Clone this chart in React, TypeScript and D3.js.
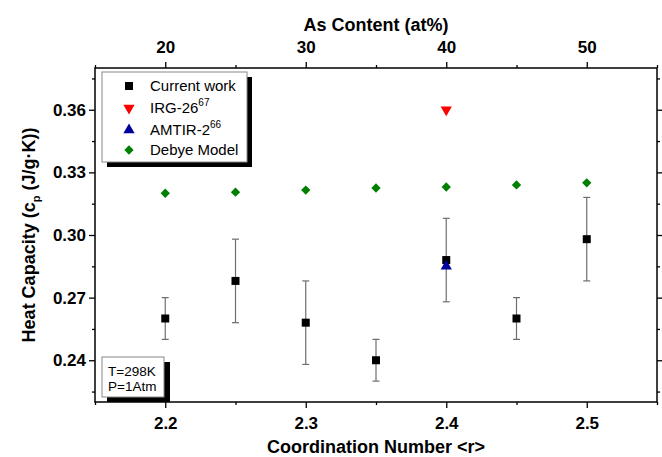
import React, { useEffect, useRef } from "react";
import * as d3 from "d3";

// coordination number <r> for each sample
const coordination = [2.2, 2.25, 2.3, 2.35, 2.4, 2.45, 2.5];
// measured heat capacity and its error
const currentWork = [0.26, 0.278, 0.258, 0.24, 0.288, 0.26, 0.298];
const currentErr = [0.01, 0.02, 0.02, 0.01, 0.02, 0.01, 0.02];
// Debye model estimate
const debye = [0.32, 0.3205, 0.3215, 0.3225, 0.323, 0.324, 0.325];
// literature points
const irg26 = [{ r: 2.4, cp: 0.36 }];
const amtir2 = [{ r: 2.4, cp: 0.285 }];

const yMajor = [0.24, 0.27, 0.3, 0.33, 0.36];
const yMinor = [0.225, 0.255, 0.285, 0.315, 0.345, 0.375];
const xMajor = [2.2, 2.3, 2.4, 2.5];
const xMinor = [2.15, 2.25, 2.35, 2.45, 2.55];
const topMajor = [20, 30, 40, 50];
const topMinor = [15, 25, 35, 45, 55];

const W = 662;
const H = 457;
const m = { left: 95, right: 5, top: 68, bottom: 55 };
const FONT = "'Liberation Sans', Arial, sans-serif";

const App = () => {
  const ref = useRef<SVGSVGElement>(null);

  const x = d3.scaleLinear().domain([2.15, 2.55]).range([m.left, W - m.right]);
  const xTop = d3.scaleLinear().domain([15, 55]).range([m.left, W - m.right]);
  const y = d3.scaleLinear().domain([0.22, 0.38]).range([H - m.bottom, m.top]);

  useEffect(() => {
    const svg = d3.select(ref.current);
    svg.selectAll(".ax").remove();

    const style = (g: any, size: number) => {
      g.select(".domain").remove();
      g.selectAll("line").attr("stroke", "#000").attr("stroke-width", 1.3);
      g.selectAll("text")
        .attr("font-family", FONT)
        .attr("font-size", size)
        .attr("font-weight", "bold")
        .attr("fill", "#000");
    };

    const bottom = H - m.bottom;
    const right = W - m.right;
    const none = () => "";

    // left axis
    svg.append("g").attr("class", "ax").attr("transform", `translate(${m.left},0)`)
      .call(d3.axisLeft(y).tickValues(yMajor).tickSize(6).tickPadding(3).tickFormat(d3.format(".2f")))
      .call((g: any) => style(g, 17));
    svg.append("g").attr("class", "ax").attr("transform", `translate(${m.left},0)`)
      .call(d3.axisLeft(y).tickValues(yMinor).tickSize(3).tickFormat(none))
      .call((g: any) => style(g, 17));
    // right axis
    svg.append("g").attr("class", "ax").attr("transform", `translate(${right},0)`)
      .call(d3.axisRight(y).tickValues(yMajor).tickSize(6).tickFormat(none))
      .call((g: any) => style(g, 17));
    svg.append("g").attr("class", "ax").attr("transform", `translate(${right},0)`)
      .call(d3.axisRight(y).tickValues(yMinor).tickSize(3).tickFormat(none))
      .call((g: any) => style(g, 17));
    // bottom axis
    svg.append("g").attr("class", "ax").attr("transform", `translate(0,${bottom})`)
      .call(d3.axisBottom(x).tickValues(xMajor).tickSize(6).tickPadding(9).tickFormat(d3.format(".1f")))
      .call((g: any) => style(g, 17));
    svg.append("g").attr("class", "ax").attr("transform", `translate(0,${bottom})`)
      .call(d3.axisBottom(x).tickValues(xMinor).tickSize(3).tickFormat(none))
      .call((g: any) => style(g, 17));
    // top axis
    svg.append("g").attr("class", "ax").attr("transform", `translate(0,${m.top})`)
      .call(d3.axisTop(xTop).tickValues(topMajor).tickSize(6).tickPadding(9).tickFormat(d3.format("d")))
      .call((g: any) => style(g, 17));
    svg.append("g").attr("class", "ax").attr("transform", `translate(0,${m.top})`)
      .call(d3.axisTop(xTop).tickValues(topMinor).tickSize(3).tickFormat(none))
      .call((g: any) => style(g, 17));
  }, []);

  const sq = 8;
  const ds = 6.6; // diamond side (rotated square)
  const tri = d3.symbol().type(d3.symbolTriangle).size(55);

  const lx = 102, ly = 72, lw = 145, lh = 90;
  const legendRows = [86, 108, 130, 150];

  return (
    <svg ref={ref} width={W} height={H} style={{ position: "absolute", left: 0, top: 0, background: "#fff" }}>
      <rect x={0} y={0} width={W} height={H} fill="#fff" />

      {/* error bars */}
      {coordination.map((r, i) => {
        const cx = x(r);
        const y1 = y(currentWork[i] - currentErr[i]);
        const y2 = y(currentWork[i] + currentErr[i]);
        return (
          <g key={"e" + i} stroke="#6e6e6e" strokeWidth={1.2}>
            <line x1={cx} x2={cx} y1={y1} y2={y2} />
            <line x1={cx - 3.5} x2={cx + 3.5} y1={y1} y2={y1} />
            <line x1={cx - 3.5} x2={cx + 3.5} y1={y2} y2={y2} />
          </g>
        );
      })}

      {/* Debye model */}
      {coordination.map((r, i) => (
        <rect key={"d" + i} x={-ds / 2} y={-ds / 2} width={ds} height={ds}
          transform={`translate(${x(r)},${y(debye[i])}) rotate(45)`} fill="#008000" />
      ))}

      {/* IRG-26 */}
      {irg26.map((p, i) => (
        <path key={"i" + i} d={tri() as string} transform={`translate(${x(p.r)},${y(p.cp)}) rotate(180)`} fill="#ff0000" />
      ))}

      {/* current work */}
      {coordination.map((r, i) => (
        <rect key={"c" + i} x={x(r) - sq / 2} y={y(currentWork[i]) - sq / 2} width={sq} height={sq} fill="#000" />
      ))}

      {/* AMTIR-2 */}
      {amtir2.map((p, i) => (
        <path key={"a" + i} d={tri() as string} transform={`translate(${x(p.r)},${y(p.cp)})`} fill="#00009c" />
      ))}

      {/* frame */}
      <rect x={m.left} y={m.top} width={W - m.left - m.right} height={H - m.top - m.bottom}
        fill="none" stroke="#000" strokeWidth={1.5} />

      {/* legend */}
      <rect x={lx + 5} y={ly + 5} width={lw} height={lh} fill="#000" />
      <rect x={lx} y={ly} width={lw} height={lh} fill="#fff" stroke="#888" strokeWidth={1} />
      <g fontFamily={FONT} fontSize={15} fill="#000">
        <rect x={129 - 4} y={legendRows[0] - 4} width={8} height={8} fill="#000" />
        <text x={150} y={legendRows[0] + 5}>Current work</text>
        <path d={tri() as string} transform={`translate(129,${legendRows[1]}) rotate(180)`} fill="#ff0000" />
        <text x={150} y={legendRows[1] + 5}>IRG-26<tspan fontSize={10} dy={-7}>67</tspan></text>
        <path d={tri() as string} transform={`translate(129,${legendRows[2]})`} fill="#00009c" />
        <text x={150} y={legendRows[2] + 5}>AMTIR-2<tspan fontSize={10} dy={-7}>66</tspan></text>
        <rect x={-ds / 2} y={-ds / 2} width={ds} height={ds} transform={`translate(129,${legendRows[3]}) rotate(45)`} fill="#008000" />
        <text x={150} y={legendRows[3] + 5}>Debye Model</text>
      </g>

      {/* conditions box */}
      <rect x={107} y={362} width={63} height={40} fill="#000" />
      <rect x={102} y={357} width={62} height={40} fill="#fff" stroke="#888" strokeWidth={1} />
      <g fontFamily={FONT} fontSize={13.5} fill="#000">
        <text x={108} y={376}>T=298K</text>
        <text x={108} y={391}>P=1Atm</text>
      </g>

      {/* axis titles */}
      <text x={(m.left + W - m.right) / 2} y={31} textAnchor="middle" fontFamily={FONT}
        fontWeight="bold" fontSize={18}>As Content (at%)</text>
      <text x={(m.left + W - m.right) / 2} y={453} textAnchor="middle" fontFamily={FONT}
        fontWeight="bold" fontSize={18}>Coordination Number &lt;r&gt;</text>
      <text transform={`translate(35,${(m.top + H - m.bottom) / 2}) rotate(-90)`} textAnchor="middle"
        fontFamily={FONT} fontWeight="bold" fontSize={18}>
        Heat Capacity (c<tspan fontSize={11} dy={5}>p</tspan><tspan dy={-5}> (J/g·K))</tspan>
      </text>
    </svg>
  );
};

export default App;
